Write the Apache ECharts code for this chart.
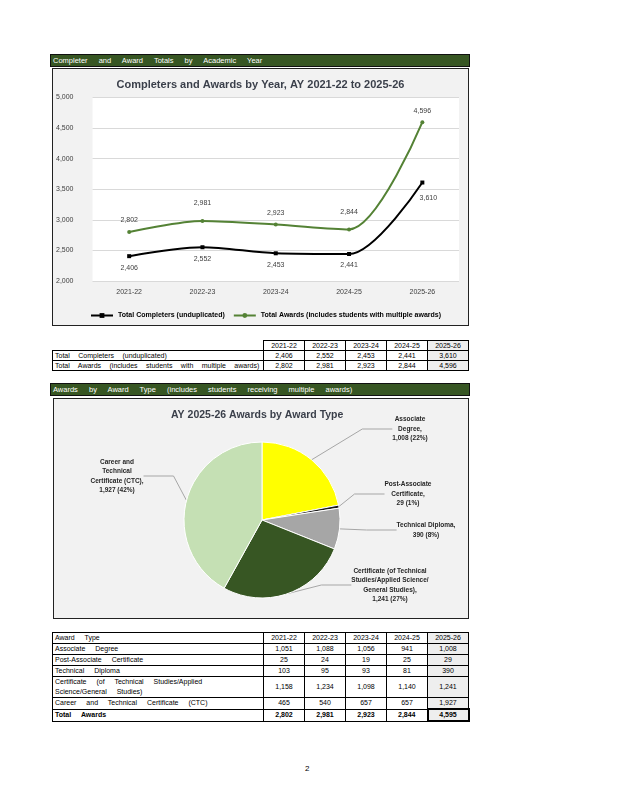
<!DOCTYPE html>
<html>
<head>
<meta charset="utf-8">
<script src="https://cdn.jsdelivr.net/npm/echarts@6/dist/echarts.min.js"></script>
<style>
  body { margin: 0; width: 618px; height: 800px; background: #fff; position: relative;
         font-family: 'Liberation Sans Narrow', 'Liberation Sans', sans-serif; color: #000; }
  .bar { position: absolute; left: 50px; width: 420px; height: 13px; background: #375623;
         border: 1px solid #111; box-sizing: border-box; color: #fff; font-size: 7.5px;
         line-height: 11px; padding-left: 2px; word-spacing: 9px; }
  .box { position: absolute; border: 1px solid #222; box-sizing: border-box; background: #f2f2f2; }
  .box > div { width: 100%; height: 100%; }
  table { position: absolute; left: 52px; width: 416px; border-collapse: collapse; table-layout: fixed; font-size: 7px; }
  td { border: 1px solid #000; padding: 0 2px; height: 9px; line-height: 9px; text-align: center;
       white-space: nowrap; overflow: hidden; }
  #tbl2 td { height: 10px; line-height: 10px; }
  #tbl2 td.wrap { white-space: normal; line-height: 10px; }
  td.lbl { text-align: left; word-spacing: 8px; }
  #tbl1 td.lbl { word-spacing: 6.5px; }
  td.last { background: #eeeeee; }
  td.blank { border-top: none; border-left: none; border-right: 1px solid #000; }
  tr.total td { font-weight: bold; }
  tr.total td.last { border: 2px solid #000; }
  .pg { position: absolute; left: 305px; top: 764px; font-size: 8px; }
</style>
</head>
<body>
<div class="bar" style="top:54px">Completer and Award Totals by Academic Year</div>
<div class="box" style="left:52px;top:68px;width:417px;height:258px"><div id="lineChart"></div></div>
<table id="tbl1" style="top:340px"></table>
<div class="bar" style="top:383px">Awards by Award Type (includes students receiving multiple awards)</div>
<div class="box" style="left:53px;top:398px;width:416px;height:221px"><div id="pieChart"></div></div>
<table id="tbl2" style="top:632px"></table>
<div class="pg">2</div>

<script>
const years = ['2021-22', '2022-23', '2023-24', '2024-25', '2025-26']
const completers = [2406, 2552, 2453, 2441, 3610]
const awards = [2802, 2981, 2923, 2844, 4596]

const awardTypes = [
  'Associate Degree',
  'Post-Associate Certificate',
  'Technical Diploma',
  'Certificate (of Technical Studies/Applied Science/General Studies)',
  'Career and Technical Certificate (CTC)'
]
const associateDegree = [1051, 1088, 1056, 941, 1008]
const postAssociate = [25, 24, 19, 25, 29]
const technicalDiploma = [103, 95, 93, 81, 390]
const certificate = [1158, 1234, 1098, 1140, 1241]
const careerTechnical = [465, 540, 657, 657, 1927]
const totalAwards = [2802, 2981, 2923, 2844, 4595]

// label text as it wraps in the pie chart
const pieLabels = [
  'Associate\nDegree',
  'Post-Associate\nCertificate',
  'Technical Diploma',
  'Certificate (of Technical\nStudies/Applied Science/\nGeneral Studies)',
  'Career and\nTechnical\nCertificate (CTC)'
]

const fmt = (v) => v.toLocaleString('en-US')
const narrow = "'Liberation Sans Narrow', 'Liberation Sans', sans-serif"

// ---- tables
function cell(text, cls) {
  return '<td' + (cls ? ' class="' + cls + '"' : '') + '>' + text + '</td>'
}
function colgroup() {
  return '<colgroup><col style="width:211px">' + years.map(() => '<col style="width:41px">').join('') + '</colgroup>'
}

let t1 = colgroup()
t1 += '<tr>' + cell('', 'blank') + years.map((y, i) => cell(y, i === 4 ? 'last' : '')).join('') + '</tr>'
t1 += '<tr>' + cell('Total Completers (unduplicated)', 'lbl') + completers.map((v, i) => cell(fmt(v), i === 4 ? 'last' : '')).join('') + '</tr>'
t1 += '<tr>' + cell('Total Awards (includes students with multiple awards)', 'lbl') + awards.map((v, i) => cell(fmt(v), i === 4 ? 'last' : '')).join('') + '</tr>'
document.getElementById('tbl1').innerHTML = t1

const typeRows = [associateDegree, postAssociate, technicalDiploma, certificate, careerTechnical]
let t2 = colgroup()
t2 += '<tr>' + cell('Award Type', 'lbl') + years.map((y, i) => cell(y, i === 4 ? 'last' : '')).join('') + '</tr>'
typeRows.forEach((row, r) => {
  const cls = r === 3 ? 'lbl wrap' : 'lbl'
  t2 += '<tr>' + cell(awardTypes[r], cls) + row.map((v, i) => cell(fmt(v), i === 4 ? 'last' : '')).join('') + '</tr>'
})
t2 += '<tr class="total">' + cell('Total Awards', 'lbl') + totalAwards.map((v, i) => cell(fmt(v), i === 4 ? 'last' : '')).join('') + '</tr>'
document.getElementById('tbl2').innerHTML = t2

// ---- line chart
const labelBase = { show: true, fontFamily: narrow, fontSize: 7, color: '#404040', formatter: (p) => fmt(p.value) }

const lineChart = echarts.init(document.getElementById('lineChart'))
lineChart.setOption({
  animation: false,
  title: {
    text: 'Completers and Awards by Year, AY 2021-22 to 2025-26',
    left: 'center',
    top: 5,
    textStyle: { fontFamily: narrow, fontSize: 11, fontWeight: 'bold', color: '#3a3f4a' }
  },
  grid: { left: 37, right: 9, top: 28.5, bottom: 44, show: true, backgroundColor: '#fff', borderWidth: 0 },
  legend: {
    left: 32,
    top: 238,
    itemWidth: 22,
    itemHeight: 6,
    itemGap: 8,
    textStyle: { fontFamily: "'Liberation Sans', sans-serif", fontSize: 7, fontWeight: 'bold', color: '#000' }
  },
  xAxis: {
    type: 'category',
    data: years,
    axisLine: { show: false },
    axisTick: { show: false },
    axisLabel: { fontFamily: narrow, fontSize: 7, color: '#404040', margin: 8 }
  },
  yAxis: {
    type: 'value',
    min: 2000,
    max: 5000,
    interval: 500,
    axisLabel: { fontFamily: narrow, fontSize: 7, color: '#404040', margin: 19, formatter: fmt },
    splitLine: { lineStyle: { color: '#d9d9d9' } }
  },
  series: [
    {
      name: 'Total Completers (unduplicated)',
      type: 'line',
      // last label sits below-right of its point
      data: completers.map((v, i) => i === 4 ? { value: v, label: { distance: 10, offset: [6, 0] } } : v),
      smooth: 0.3,
      symbol: 'rect',
      symbolSize: 4,
      color: '#000',
      lineStyle: { width: 2 },
      label: { ...labelBase, position: 'bottom', distance: 6 }
    },
    {
      name: 'Total Awards (includes students with multiple awards)',
      type: 'line',
      data: awards.map((v, i) => (i === 1 || i === 3) ? { value: v, label: { distance: 12 } } : v),
      smooth: 0.3,
      symbol: 'circle',
      symbolSize: 4,
      color: '#548235',
      lineStyle: { width: 2 },
      label: { ...labelBase, position: 'top', distance: 6 }
    }
  ]
})

// ---- pie chart (last academic year)
const pieColors = ['#ffff00', '#1a1a1a', '#a6a6a6', '#375623', '#c5e0b4']
// label anchor points inside the chart box
const labelSpots = [[356, 30], [354, 95], [372, 131], [336, 186], [63, 77]]
const pieData = typeRows.map((row, i) => ({ name: awardTypes[i], value: row[4] }))

const pieChart = echarts.init(document.getElementById('pieChart'))
pieChart.setOption({
  animation: false,
  title: {
    text: 'AY 2025-26 Awards by Award Type',
    left: 112,
    top: 6,
    textStyle: { fontFamily: narrow, fontSize: 10.5, fontWeight: 'bold', color: '#3a3f4a' }
  },
  color: pieColors,
  series: [{
    type: 'pie',
    center: [208, 121],
    radius: 78,
    startAngle: 90,
    clockwise: true,
    data: pieData,
    itemStyle: { borderColor: '#fff', borderWidth: 1 },
    label: {
      show: true,
      position: 'outside',
      fontFamily: narrow,
      fontSize: 6.5,
      lineHeight: 9.5,
      fontWeight: 'bold',
      color: '#262626',
      align: 'center',
      formatter: (p) => pieLabels[p.dataIndex] + ',\n' + fmt(p.value) + ' (' + Math.round(p.percent) + '%)'
    },
    labelLine: { show: true, lineStyle: { color: '#a6a6a6', width: 1 } },
    labelLayout: (p) => ({
      x: labelSpots[p.dataIndex][0],
      y: labelSpots[p.dataIndex][1],
      align: 'center',
      verticalAlign: 'middle'
    })
  }]
})
</script>
</body>
</html>
